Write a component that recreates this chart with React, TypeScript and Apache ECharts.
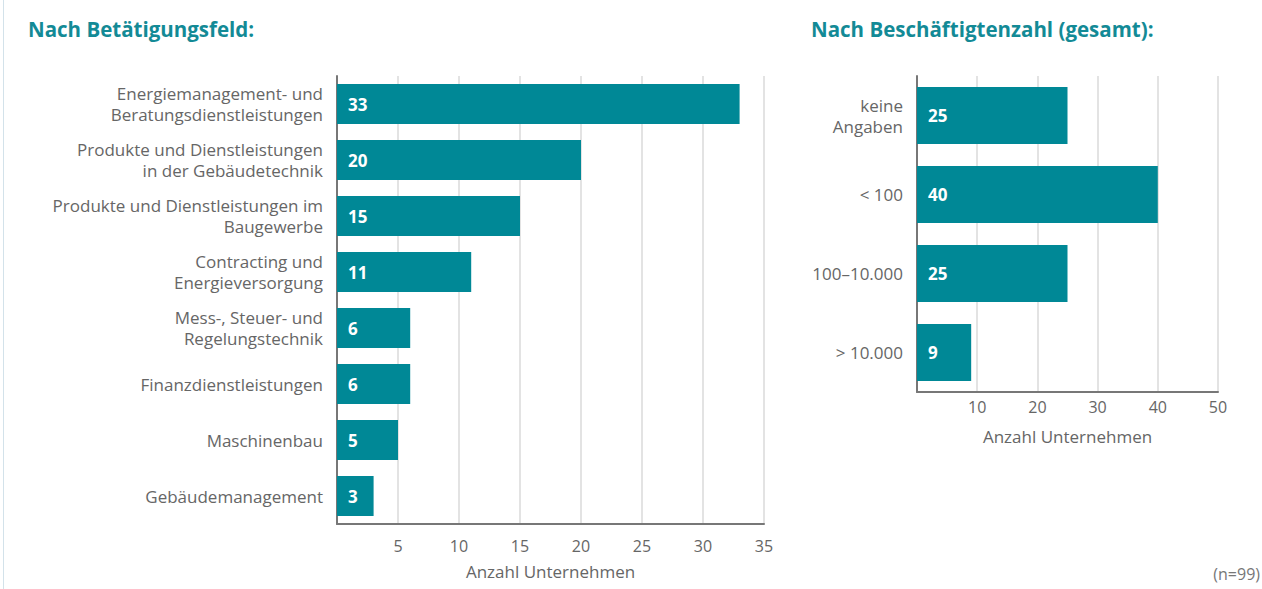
import React, { useEffect, useRef } from "react";
import * as echarts from "echarts";

const fieldCategories = [
  "Energiemanagement- und\nBeratungsdienstleistungen",
  "Produkte und Dienstleistungen\nin der Gebäudetechnik",
  "Produkte und Dienstleistungen im\nBaugewerbe",
  "Contracting und\nEnergieversorgung",
  "Mess-, Steuer- und\nRegelungstechnik",
  "Finanzdienstleistungen",
  "Maschinenbau",
  "Gebäudemanagement",
];
const fieldValues = [33, 20, 15, 11, 6, 6, 5, 3];

const sizeCategories = ["keine\nAngaben", "< 100", "100–10.000", "> 10.000"];
const sizeValues = [25, 40, 25, 9];

const BAR = "#008896";
const FONT = "'Open Sans', 'Noto Sans', sans-serif";

export default function App() {
  const ref = useRef<HTMLDivElement>(null);
  useEffect(() => {
    if (!ref.current) return;
    const chart = echarts.init(ref.current, undefined, { renderer: "svg" });
    const xAxisCommon = {
      type: "value" as const,
      min: 0,
      nameLocation: "middle" as const,
      name: "Anzahl Unternehmen",
      nameTextStyle: { color: "#666", fontSize: 17, fontFamily: FONT },
      axisLine: { show: true, lineStyle: { color: "#777", width: 2 } },
      axisTick: { show: false },
      splitLine: { show: true, lineStyle: { color: "#e3e3e3", width: 2 } },
    };
    const axisLabelX = { color: "#666", fontSize: 16, fontFamily: FONT, showMinLabel: false };
    const yAxisCommon = {
      type: "category" as const,
      inverse: true,
      axisLine: { show: true, lineStyle: { color: "#777", width: 2 } },
      axisTick: { show: false },
      axisLabel: { color: "#666", fontSize: 17, fontFamily: FONT, lineHeight: 21, margin: 14, align: "right" as const },
    };
    const labelCommon = {
      show: true,
      position: "insideLeft" as const,
      distance: 11,
      color: "#fff",
      fontWeight: "bold" as const,
      fontSize: 17,
      fontFamily: FONT,
    };
    chart.setOption({
      animation: false,
      textStyle: { fontFamily: FONT },
      title: [
        {
          text: "Nach Betätigungsfeld:",
          left: 23,
          top: 13,
          textStyle: { color: "#138a96", fontSize: 20.5, fontWeight: "bold", fontFamily: FONT },
        },
        {
          text: "Nach Beschäftigtenzahl (gesamt):",
          left: 806,
          top: 13,
          textStyle: { color: "#138a96", fontSize: 20.5, fontWeight: "bold", fontFamily: FONT },
        },
      ],
      graphic: [
        { type: "rect", left: 3, top: 0, shape: { width: 1, height: 589 }, style: { fill: "#d3e2ea" } },
        {
          type: "text",
          right: 2,
          top: 566,
          style: { text: "(n=99)", fill: "#777", fontSize: 16, fontFamily: FONT },
        },
      ],
      grid: [
        { left: 337, top: 76, width: 427, height: 448 },
        { left: 917, top: 76, width: 301, height: 316 },
      ],
      xAxis: [
        { ...xAxisCommon, gridIndex: 0, max: 35, interval: 5, nameGap: 39, axisLabel: { ...axisLabelX, margin: 14 } },
        { ...xAxisCommon, gridIndex: 1, max: 50, interval: 10, nameGap: 36, axisLabel: { ...axisLabelX, margin: 7 } },
      ],
      yAxis: [
        { ...yAxisCommon, gridIndex: 0, data: fieldCategories },
        { ...yAxisCommon, gridIndex: 1, data: sizeCategories },
      ],
      series: [
        {
          type: "bar",
          xAxisIndex: 0,
          yAxisIndex: 0,
          data: fieldValues,
          barCategoryGap: "29%",
          itemStyle: { color: BAR },
          label: labelCommon,
        },
        {
          type: "bar",
          xAxisIndex: 1,
          yAxisIndex: 1,
          data: sizeValues,
          barCategoryGap: "28%",
          itemStyle: { color: BAR },
          label: labelCommon,
        },
      ],
    });
    return () => chart.dispose();
  }, []);
  return (
    <div
      ref={ref}
      style={{ position: "absolute", left: 0, top: 0, width: 1262, height: 589, background: "#fff" }}
    />
  );
}
